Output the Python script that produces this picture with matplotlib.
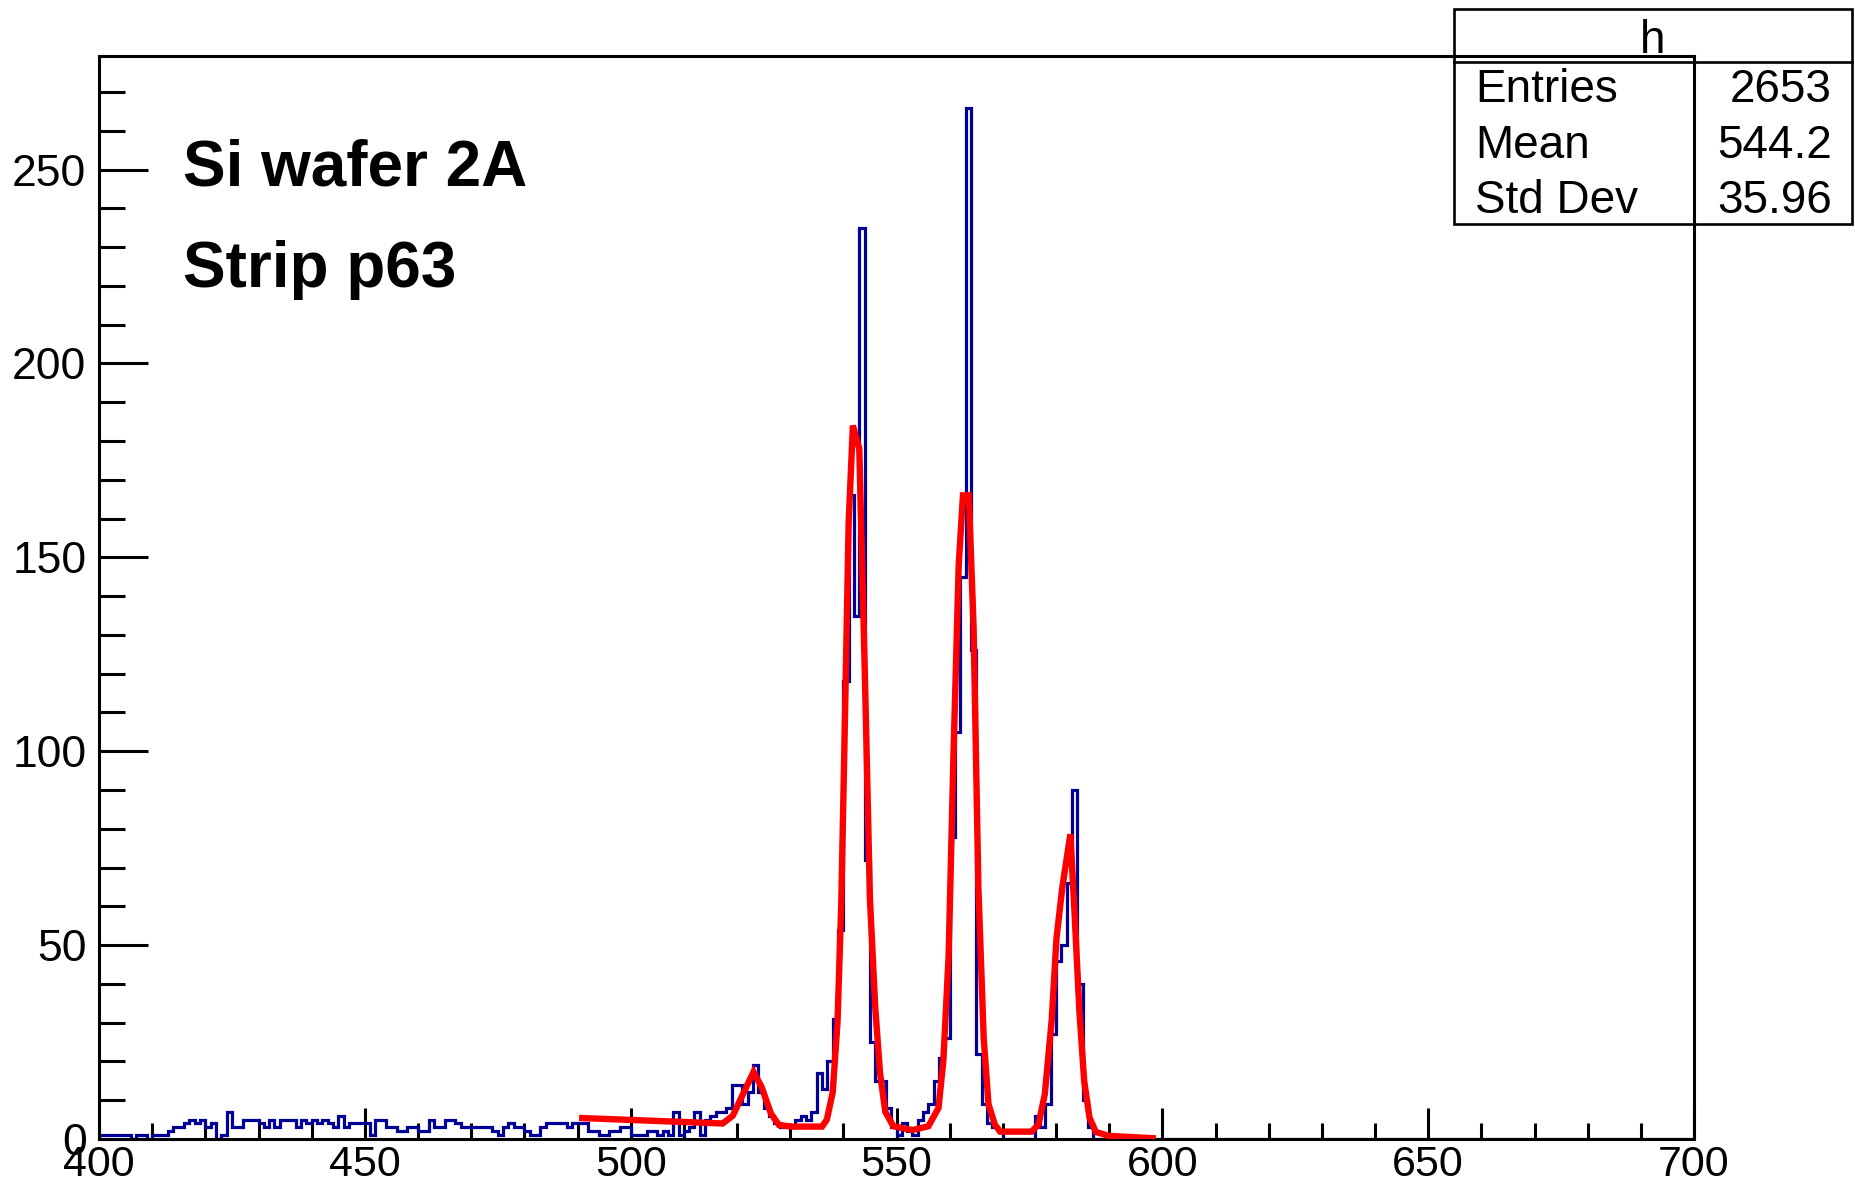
import matplotlib
matplotlib.use("Agg")
import matplotlib.pyplot as plt
from matplotlib.patches import Rectangle
from matplotlib.ticker import MultipleLocator

plt.rcParams['font.family'] = ['Liberation Sans', 'DejaVu Sans']

# histogram: 300 bins of width 1 from 400 to 700
bin_lo, bin_hi = 400, 700

counts_400 = [1, 1, 1, 1, 1, 1, 0, 1, 1, 0,
              1, 1, 1, 2, 3, 3, 4, 5, 4, 5,
              3, 4, 0, 1, 7, 3, 3, 5, 5, 5,
              4, 3, 5, 3, 5, 5, 5, 3, 5, 4,
              5, 4, 5, 4, 3, 6, 3, 4, 4, 4]
counts_450 = [4, 1, 5, 5, 3, 3, 2, 2, 3, 3,
              2, 2, 5, 3, 3, 5, 5, 4, 3, 3,
              3, 3, 3, 3, 2, 1, 3, 4, 3, 3,
              2, 1, 1, 3, 4, 4, 4, 4, 3, 4,
              4, 4, 2, 2, 1, 1, 2, 2, 3, 3]
counts_500 = [1, 1, 1, 2, 2, 1, 2, 1, 7, 1,
              2, 3, 7, 1, 5, 6, 7, 7, 8, 14,
              14, 9, 12, 19, 12, 8, 6, 4, 3, 3,
              3, 5, 6, 5, 7, 17, 13, 20, 31, 54,
              118, 166, 135, 235, 72, 25, 15, 15, 8, 3]
counts_550 = [1, 4, 2, 1, 5, 7, 9, 15, 21, 26,
              78, 105, 145, 266, 126, 22, 9, 4, 3, 2,
              0, 0, 0, 0, 0, 0, 6, 3, 9, 27,
              46, 50, 66, 90, 40, 10, 3, 0, 0, 0,
              0, 0, 0, 0, 0, 0, 0, 0, 0, 0]
counts_600 = [0] * 100

# fit curve (red), vertices
fit_x = [490.9, 517.3, 519.2, 521.1, 523.1, 524.6, 526.4, 527.9, 530.3, 536.0,
         536.9, 538.0, 538.9, 539.6, 540.2, 541.0, 541.8, 543.0, 544.1, 545.0,
         546.0, 546.9, 547.9, 549.4, 553.0, 556.0, 557.9, 558.8, 559.8, 560.7,
         561.7, 562.5, 563.6, 564.5, 565.4, 566.4, 567.3, 568.5, 569.5, 575.4,
         576.7, 577.9, 579.2, 580.1, 581.2, 582.7, 583.5, 584.4, 585.3, 586.3,
         587.5, 590.0, 598.2]
fit_y = [5.4, 4.0, 6.0, 11.5, 17.3, 13.5, 6.5, 3.6, 3.2, 3.2,
         5.0, 12.0, 30.0, 60.0, 101.0, 159.0, 184.0, 178.0, 117.0, 62.0,
         34.0, 17.0, 7.0, 3.3, 2.3, 3.3, 8.0, 20.0, 47.0, 98.0,
         148.0, 166.0, 166.0, 132.0, 65.0, 26.0, 9.0, 3.7, 1.9, 1.9,
         3.7, 11.6, 30.8, 51.9, 65.0, 78.6, 58.0, 33.0, 15.0, 5.5,
         1.8, 0.8, 0.2]

stats_title = "h"
stats_names = ["Entries", "Mean", "Std Dev"]
stats_values = ["2653", "544.2", "35.96"]

counts = counts_400 + counts_450 + counts_500 + counts_550 + counts_600
edges = list(range(bin_lo, bin_hi + 1))

W, H = 1855, 1188
fig = plt.figure(figsize=(W / 100, H / 100), dpi=100)
ax = fig.add_axes([99 / W, 1 - 1139 / H, (1694 - 99) / W, (1139 - 56) / H])
ax.patch.set_facecolor('none')

ax.stairs(counts, edges, color='#000099', linewidth=2.3, zorder=2)
ax.plot(fit_x, fit_y, color='#ff0000', linewidth=4.6, solid_joinstyle='miter', zorder=3)

ax.set_xlim(bin_lo, bin_hi)
ax.set_ylim(0, max(counts) * 1.05)

ax.xaxis.set_major_locator(MultipleLocator(50))
ax.xaxis.set_minor_locator(MultipleLocator(10))
ax.yaxis.set_major_locator(MultipleLocator(50))
ax.yaxis.set_minor_locator(MultipleLocator(10))
ax.tick_params(axis='x', which='major', direction='in', length=22, width=2.2, pad=4, labelsize=31)
ax.tick_params(axis='x', which='minor', direction='in', length=11.5, width=2.2)
ax.tick_params(axis='y', which='major', direction='in', length=35, width=2.2, pad=9, labelsize=32)
ax.tick_params(axis='y', which='minor', direction='in', length=19, width=2.2)
for s in ax.spines.values():
    s.set_linewidth(2.2)

# labels inside the pad
fig.text(183 / W, 1 - 186 / H, "Si wafer 2A", fontsize=46, fontweight='bold', va='baseline')
fig.text(183 / W, 1 - 287 / H, "Strip p63", fontsize=46, fontweight='bold', va='baseline')

# stats box, drawn under the frame
bx0, bx1, by0, by1, bsep = 1454, 1852, 9, 224, 62
fig.add_artist(Rectangle((bx0 / W, 1 - by1 / H), (bx1 - bx0) / W, (by1 - by0) / H,
                         transform=fig.transFigure, facecolor='white', edgecolor='black',
                         linewidth=1.9, zorder=-1))
fig.add_artist(plt.Line2D([bx0 / W, bx1 / W], [1 - bsep / H, 1 - bsep / H],
                          transform=fig.transFigure, color='black', linewidth=1.9, zorder=-1))
fig.text(1653 / W, 1 - 53 / H, stats_title, fontsize=33, ha='center', va='baseline', zorder=-1)
for i, (n, v) in enumerate(zip(stats_names, stats_values)):
    yb = [102, 158, 213][i]
    fig.text(1475 / W, 1 - yb / H, n, fontsize=33, ha='left', va='baseline', zorder=-1)
    fig.text(1832 / W, 1 - yb / H, v, fontsize=33, ha='right', va='baseline', zorder=-1)

fig.savefig("out.png", dpi=100)
